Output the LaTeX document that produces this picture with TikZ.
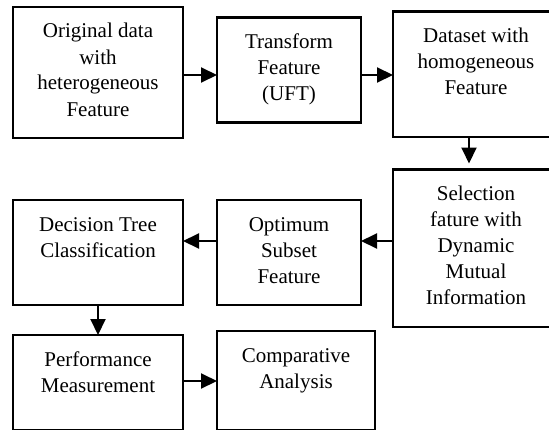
\documentclass[tikz,border=0pt]{standalone}
\usepackage{fontspec}
\setmainfont{Liberation Serif}
\usetikzlibrary{arrows.meta}
\newcommand{\topgap}{\rule{0pt}{15.5pt}}

\begin{document}
\begin{tikzpicture}[x=0.5pt,y=0.5pt,
  box/.style={draw=drawColor,line width=1.1pt,inner sep=0pt,outer sep=0pt,anchor=north west},
  lbl/.style={text=drawColor,anchor=north,inner sep=0pt,outer sep=0pt,align=center,font=\fontsize{10.5}{13}\selectfont},
  flow/.style={draw=drawColor,line width=1pt,-{Triangle[length=8pt,width=7.5pt]}}]
\definecolor{drawColor}{RGB}{0,0,0}
\path[use as bounding box] (0,0) rectangle (549,429);
\begin{scope}
\path[clip] (0,0) rectangle (549,429);

% boxes
\node[box,minimum width=85pt,minimum height=65.5pt] (orig) at ( 13,422.0) {};
\node[box,minimum width=72pt,minimum height=52.5pt] (ufte) at (217,411.5) {};
\node[box,minimum width=83pt,minimum height=62.75pt] (homog) at (393,417.5) {};
\node[box,minimum width=83pt,minimum height=78.75pt] (select) at (393,259.5) {};
\node[box,minimum width=72pt,minimum height=52.5pt] (subset) at (217,229.0) {};
\node[box,minimum width=85pt,minimum height=52.5pt] (tree) at ( 13,229.0) {};
\node[box,minimum width=85pt,minimum height=47.5pt] (perf) at ( 13, 94.0) {};
\node[box,minimum width=79pt,minimum height=49.5pt] (comp) at (217, 98.0) {};

% texts
\node[lbl] (orig-t) at (orig.north) {\topgap Original data\\with\\heterogeneous\\Feature};
\node[lbl] (ufte-t) at (ufte.north) {\topgap Transform\\Feature\\(UFT)};
\node[lbl] (homog-t) at (homog.north) {\topgap Dataset with\\homogeneous\\Feature};
\node[lbl] (select-t) at (select.north) {\topgap Selection\\fature with\\Dynamic\\Mutual\\Information};
\node[lbl] (subset-t) at (subset.north) {\topgap Optimum\\Subset\\Feature};
\node[lbl] (tree-t) at (tree.north) {\topgap Decision Tree\\Classification};
\node[lbl] (perf-t) at (perf.north) {\topgap Performance\\Measurement};
\node[lbl] (comp-t) at (comp.north) {\topgap Comparative\\Analysis};

% arrows
\coordinate (row1) at (0,354);
\coordinate (row2) at (0,188);
\coordinate (row3) at (0,48);
\coordinate (col3) at (469,0);

\path[flow] (orig.east |- row1) -- (ufte.west |- row1);
\path[flow] (ufte.east |- row1) -- (homog.west |- row1);
\path[flow,shorten >=3pt] (homog.south -| col3) -- (select.north -| col3);
\path[flow] (select.west |- row2) -- (subset.east |- row2);
\path[flow] (subset.west |- row2) -- (tree.east |- row2);
\path[flow] (tree.south) -- (perf.north);
\path[flow] (perf.east |- row3) -- (comp.west |- row3);
\end{scope}
\end{tikzpicture}
\end{document}
